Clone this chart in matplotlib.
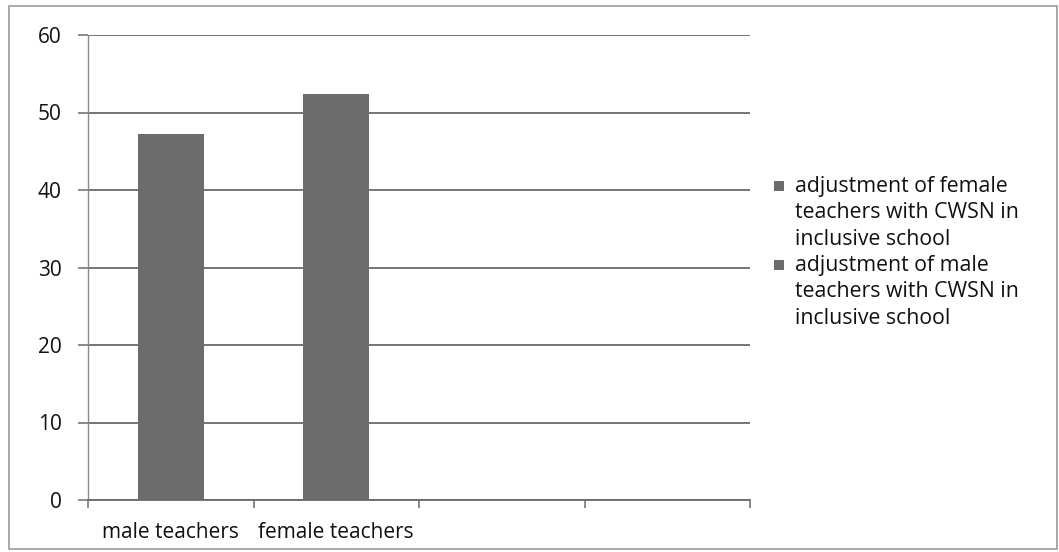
import matplotlib
matplotlib.use("Agg")
import matplotlib.pyplot as plt
from matplotlib.patches import Rectangle

# Chart data
categories = ["male teachers", "female teachers", "", ""]
values = [47.2, 52.4, 0, 0]
series_labels = [
    "adjustment of female\nteachers with CWSN in\ninclusive school",
    "adjustment of male\nteachers with CWSN in\ninclusive school",
]
y_ticks = [0, 10, 20, 30, 40, 50, 60]

plt.rcParams["font.family"] = ["Open Sans", "DejaVu Sans"]

W, H = 1059, 552
fig = plt.figure(figsize=(W / 100, H / 100), dpi=100)
fig.patch.set_facecolor("white")

# outer chart border
fig.patches.append(Rectangle((9 / W, 3 / H), 1048 / W, 543 / H,
                             transform=fig.transFigure, fill=False,
                             edgecolor="#9a9a9a", linewidth=1.2))

ax = fig.add_axes([88 / W, 1 - 500 / H, (750 - 88) / W, (500 - 35) / H])

bar_color = "#6c6c6c"
text_color = "#111111"
x = list(range(len(categories)))
ax.bar(x[:2], values[:2], width=0.4, color=bar_color, zorder=3)

ax.set_xlim(-0.5, len(categories) - 0.5)
ax.set_ylim(0, 60)
ax.set_yticks(y_ticks)
ax.set_yticklabels([str(t) for t in y_ticks], fontsize=15, color=text_color)

# category boundary ticks
ax.set_xticks([i - 0.5 for i in range(len(categories) + 1)])
ax.set_xticklabels([])
ax.set_xticks(x, minor=True)
ax.set_xticklabels(categories, minor=True, fontsize=15, color=text_color)
ax.tick_params(axis="x", which="minor", length=0, pad=16)
ax.tick_params(axis="x", which="major", length=6, width=1.2, color="#777777")
ax.tick_params(axis="y", length=7, width=1.2, color="#777777", pad=12)

ax.grid(axis="y", color="#6a6a6a", linewidth=1.3, zorder=0)
for s in ["top", "right"]:
    ax.spines[s].set_visible(False)
ax.spines["left"].set_color("#8a8a8a")
ax.spines["left"].set_linewidth(1.0)
ax.spines["bottom"].set_color("#6a6a6a")
ax.spines["bottom"].set_linewidth(1.3)

# legend: square marker beside the first line of each wrapped entry
entry_tops = [176, 255]
for label, top in zip(series_labels, entry_tops):
    fig.text(795 / W, 1 - top / H, label, fontsize=15.3, color=text_color,
             va="top", ha="left", linespacing=1.33)
    fig.patches.append(Rectangle((774 / W, 1 - (top + 15) / H), 10 / W, 10 / H,
                                 transform=fig.transFigure,
                                 facecolor=bar_color, edgecolor="none"))

fig.savefig("out.png", dpi=100, facecolor="white")
